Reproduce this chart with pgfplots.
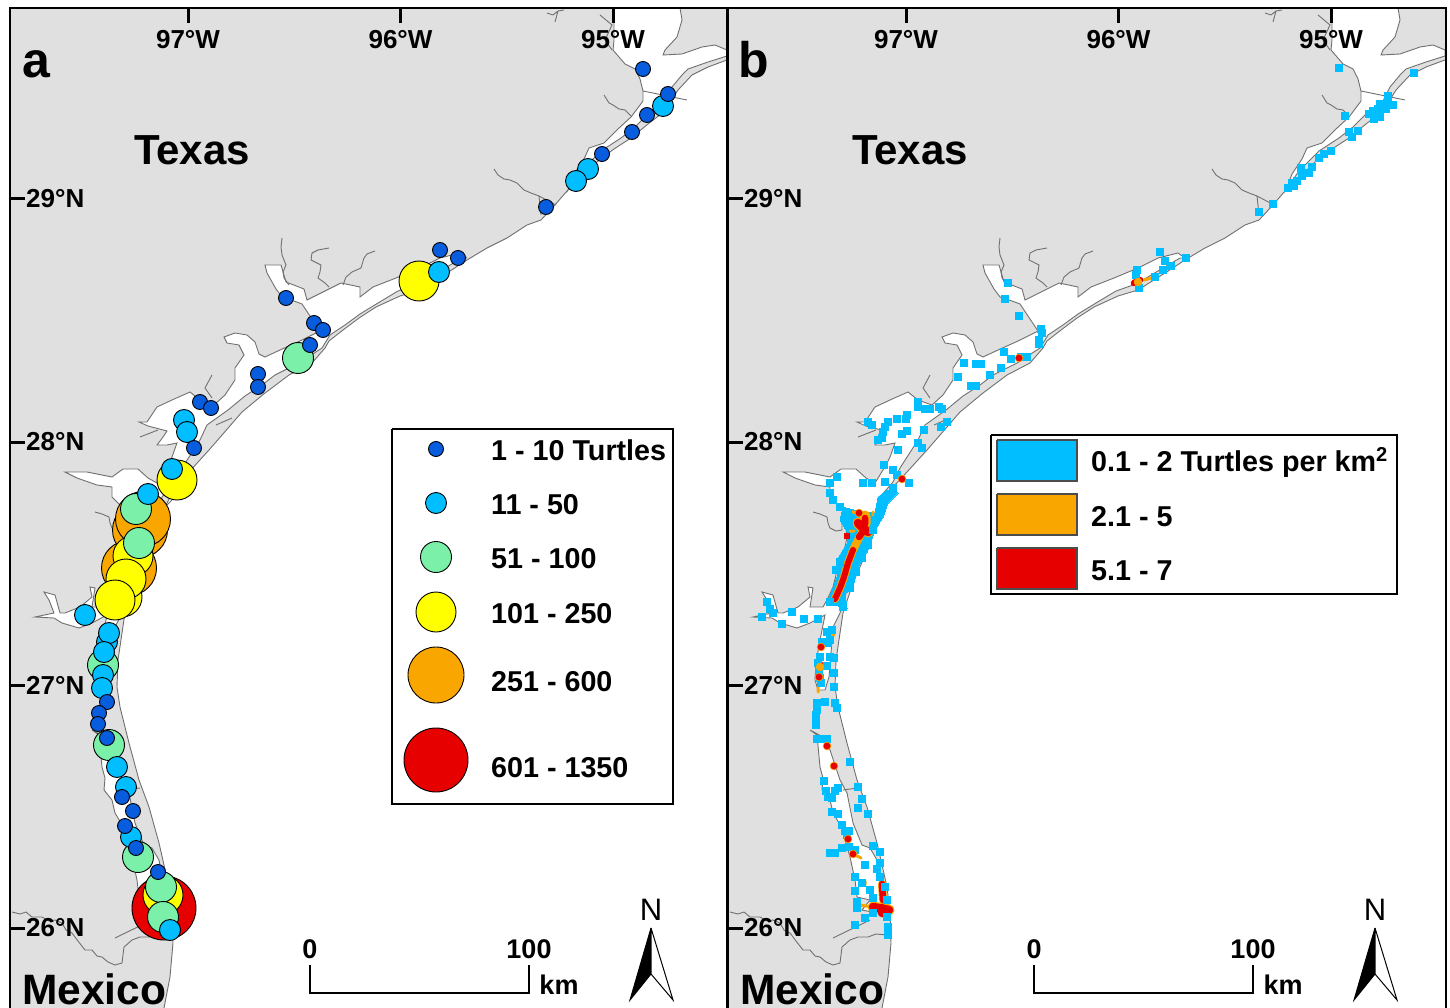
\documentclass[border=0pt]{standalone}
\usepackage{fontspec}
\setmainfont{Liberation Sans}
\usepackage{pgfplots}
\usepackage{pgfplotstable}
\pgfplotsset{compat=1.18}
\definecolor{landc}{RGB}{224,224,224}
\definecolor{coastc}{RGB}{112,112,112}
\definecolor{dblue}{RGB}{8,92,222}
\definecolor{lblue}{RGB}{0,190,255}
\definecolor{lgreen}{RGB}{122,240,168}
\definecolor{yel}{RGB}{255,255,0}
\definecolor{org}{RGB}{250,166,0}
\definecolor{rd}{RGB}{230,0,0}
\newcommand{\fs}[1]{\fontsize{#1}{#1}\selectfont\bfseries}

\pgfplotstableread{
x y
5 3
735 3
735 62
727 60
708 67
692 75
678 90
665 111
648 124
631 138
614 149
598 161
581 178
567 191
554 206
541 220
527 225
507 238
487 248
467 260
447 273
420 290
400 296
376 307
359 318
343 330
329 341
325 348
312 363
289 375
265 393
242 412
229 427
209 450
189 472
175 487
165 507
159 527
152 540
145 560
135 583
125 613
122 633
118 660
117 687
120 707
129 743
139 780
149 807
159 843
169 887
172 913
173 943
170 977
164 1008
162 1020
5 1020
5 3
}\landtab

\pgfplotstableread{
x y
467 258
460 253
440 258
420 268
396 278
373 287
360 297
360 287
341 283
307 300
304 289
286 282
281 265
265 265
267 273
276 289
282 297
294 301
302 304
312 319
320 331
300 341
280 350
265 357
259 354
255 342
247 335
235 333
224 337
227 343
239 345
244 355
235 368
235 380
225 395
214 405
200 400
190 392
172 400
157 407
147 422
139 422
148 426
167 431
163 437
157 445
167 445
177 443
172 457
168 465
157 483
148 478
138 469
123 469
112 477
87 472
65 472
77 478
97 485
112 487
112 497
125 510
127 520
129 537
127 547
120 567
115 587
109 600
105 607
92 607
95 588
90 587
92 597
80 607
65 613
60 613
55 595
44 592
49 600
54 613
35 617
54 618
62 623
79 628
92 623
107 615
102 640
98 663
97 680
100 690
107 690
111 677
113 653
115 627
122 613
129 590
140 560
155 527
162 497
175 482
182 468
200 440
207 425
228 410
245 396
262 385
275 375
299 363
322 348
330 335
345 325
360 314
378 303
398 291
418 284
440 271
462 258
467 258
}\baytab

\pgfplotstableread{
x y
614 8
680 8
682 20
677 37
665 50
663 55
682 54
702 47
715 45
727 50
727 56
708 62
688 69
682 75
672 87
665 101
651 111
635 127
621 138
601 151
581 171
568 190
574 174
584 159
589 148
604 143
618 129
631 117
643 101
643 91
640 79
635 69
625 64
613 50
614 40
614 8
}\galvtab

\pgfplotstableread{
x y
92 730
99 735
102 767
105 778
104 790
112 800
115 813
124 828
127 840
132 857
137 880
139 897
152 900
144 910
159 913
169 907
169 900
162 877
159 860
152 848
144 845
135 823
129 793
122 780
112 750
105 737
92 730
}\lagtab

\pgfplotstableread{
x y
494 169
498 175
504 179
510 180
517 183
524 190
531 193
539 196
541 215
nan nan
539 196
556 205
nan nan
604 95
609 103
613 105
619 109
625 110
631 116
nan nan
547 13
553 15
558 11
564 10
nan nan
558 11
555 22
nan nan
643 91
687 100
nan nan
282 238
281 247
282 255
286 265
283 272
284 278
289 285
nan nan
329 248
318 250
312 253
311 260
321 265
320 272
318 278
325 283
329 287
nan nan
375 251
367 254
364 258
361 268
352 272
346 277
343 285
nan nan
95 512
102 514
109 517
110 523
112 528
118 531
124 530
124 520
nan nan
12 912
20 914
26 912
32 917
42 917
49 921
55 920
62 923
66 930
72 933
78 941
85 950
92 950
97 956
102 957
108 962
115 965
122 963
124 947
132 940
140 937
150 937
158 934
169 935
nan nan
115 938
152 920
nan nan
125 790
140 788
nan nan
600 15
612 25
605 40
612 50
nan nan
212 375
205 388
212 398
nan nan
158 430
140 437
nan nan
216 425
232 418
nan nan
160 512
172 500
}\rivertab

\pgfplotstableread{
x y
621 68
696 73
670 96
670 101
675 105
668 106
662 104
660 109
655 111
651 114
662 117
656 119
668 109
627 116
631 132
640 131
634 137
613 151
606 154
601 158
583 168
594 167
591 173
584 176
579 181
574 183
570 188
576 186
555 204
541 212
442 252
468 258
447 261
453 266
445 270
437 277
419 270
418 275
421 288
290 283
287 299
301 316
323 329
324 333
321 340
321 344
286 352
246 363
263 364
258 364
293 359
309 357
303 357
283 368
272 375
240 377
258 386
253 386
200 402
200 407
207 409
212 409
221 407
224 409
229 422
223 427
206 430
189 415
188 419
179 419
150 422
154 425
170 422
167 427
165 432
189 431
184 434
164 438
160 440
200 443
204 448
180 450
166 465
175 470
191 483
179 475
167 482
145 483
154 483
175 488
119 477
112 483
112 493
115 500
122 507
130 513
165 505
160 517
155 530
150 545
144 558
138 572
132 588
118 570
122 562
112 602
125 607
49 602
52 609
55 613
44 617
74 612
64 624
86 619
100 619
109 632
114 630
110 643
105 643
112 640
104 642
102 657
100 663
103 683
112 657
116 658
116 673
116 687
109 666
101 670
102 678
99 703
107 702
117 703
119 708
99 710
98 715
98 720
98 725
99 739
104 739
109 739
132 762
106 781
140 787
120 788
117 791
108 791
110 797
114 798
144 799
140 808
150 814
114 812
120 814
124 825
127 831
131 831
129 835
124 848
112 853
117 853
131 847
137 850
155 846
162 852
147 865
162 863
159 869
162 877
137 877
144 883
152 890
137 891
139 902
139 908
155 898
167 887
169 900
147 918
137 925
155 913
169 917
170 927
170 935
}\cellstab

\pgfplotstableread{
x y
125 507
140 511
157 513
160 497
169 490
180 493
170 503
165 517
157 530
149 552
140 567
134 590
127 593
129 608
109 603
115 587
125 560
119 560
129 543
130 533
122 520
125 507
}\bandtab

\pgfplotstableread{
x y
643 69
668 94
647 115
632 132
602 154
546 207
440 250
458 258
286 298
314 323
323 330
310 345
258 374
258 387
200 402
211 408
194 448
107 702
99 713
98 724
107 738
122 797
133 811
125 826
136 848
158 872
}\sitesA

\pgfplotstableread{
x y
663 106
588 169
576 181
439 272
184 420
187 432
172 469
148 494
85 615
107 642
109 633
104 652
103 675
102 688
117 767
126 787
131 837
170 930
}\sitesB

\pgfplotstableread{
x y
298 358
136 509
139 543
103 665
109 745
138 857
161 887
163 917
}\sitesC

\pgfplotstableread{
x y
419 281
177 480
122 597
163 895
133 556
126 579
115 600
}\sitesD

\pgfplotstableread{
x y
129 568
140 530
143 519
}\sitesE

\pgfplotstableread{
x y
164 908
}\sitesF

\pgfplotsset{
  mapaxis/.style={
    scale only axis, height=1004pt, y dir=reverse,
    xmin=10, ymin=8, ymax=1012, enlargelimits=false,
    axis on top,
    axis line style={line width=2.5pt,black},
    xtick={188,400.5,613}, xticklabels={97°W,96°W,95°W},
    ytick={199,442,685,928}, yticklabels={29°N,28°N,27°N,26°N},
    xtick pos=upper, ytick pos=left, xticklabel pos=upper, yticklabel pos=left,
    tick align=inside, major tick length=15pt,
    tick style={line width=3pt,black},
    xticklabel style={font=\fs{26}, anchor=base, inner sep=0pt, yshift=-41pt},
    yticklabel style={font=\fs{26}, anchor=west, inner sep=0pt, xshift=16pt},
    clip=true,
    nodes={inner sep=0pt},
  },
  landplot/.style={fill=landc, draw=coastc, line width=.9pt, mark=none},
  bayplot/.style={fill=white, draw=coastc, line width=.9pt, mark=none},
  site/.style n args={2}{only marks, mark=*, mark size=#2pt,
    mark options={fill=#1, draw=black, line width=.9pt}},
  cell/.style={only marks, mark=square*, mark size=3.4pt,
    mark options={fill=lblue, draw=lblue, line width=0pt}},
}
\newcommand{\basemap}{%
  \addplot[landplot] table[x=x,y=y]{\landtab};
  \addplot[bayplot] table[x=x,y=y]{\baytab};
  \addplot[bayplot] table[x=x,y=y]{\galvtab};
  \addplot[bayplot] table[x=x,y=y]{\lagtab};
  \addplot[draw=coastc, line width=.9pt, mark=none, unbounded coords=jump] table[x=x,y=y]{\rivertab};
}
\newcommand{\furniture}[1]{%
  \node[font=\fs{42}, anchor=base] at (axis cs:192,165) {Texas};
  \node[font=\fs{50}, anchor=base] at (axis cs:36,78) {#1};
}
\begin{document}
\begin{tikzpicture}
\useasboundingbox (0,0) rectangle (1450pt,1008pt);
%%%% panel a
\begin{axis}[mapaxis, at={(10pt,-4pt)}, anchor=south west, width=717pt, xmax=727]
\basemap
\addplot[site={rd}{32}] table[x=x,y=y]{\sitesF};
\addplot[site={org}{27.5}] table[x=x,y=y]{\sitesE};
\addplot[site={yel}{20}] table[x=x,y=y]{\sitesD};
\addplot[site={lgreen}{15.5}] table[x=x,y=y]{\sitesC};
\addplot[site={lblue}{10.5}] table[x=x,y=y]{\sitesB};
\addplot[site={dblue}{7.5}] table[x=x,y=y]{\sitesA};
% legend
\addplot[fill=white, draw=black, line width=2pt, mark=none] coordinates {(392,429)(673,429)(673,804)(392,804)(392,429)};
\addplot[site={dblue}{7.5}] coordinates {(436,449)};
\addplot[site={lblue}{10.5}] coordinates {(436,503)};
\addplot[site={lgreen}{15.5}] coordinates {(436,557)};
\addplot[site={yel}{20}] coordinates {(436,612)};
\addplot[site={org}{28}] coordinates {(436,675)};
\addplot[site={rd}{32}] coordinates {(436,760)};
\node[font=\fs{28.7}, anchor=base west] at (axis cs:491,460) {1 - 10 Turtles};
\node[font=\fs{28.7}, anchor=base west] at (axis cs:491,514) {11 - 50};
\node[font=\fs{28.7}, anchor=base west] at (axis cs:491,568) {51 - 100};
\node[font=\fs{28.7}, anchor=base west] at (axis cs:491,623) {101 - 250};
\node[font=\fs{28.7}, anchor=base west] at (axis cs:491,691) {251 - 600};
\node[font=\fs{28.7}, anchor=base west] at (axis cs:491,777) {601 - 1350};
\node[font=\fs{42.5}, anchor=base west] at (axis cs:22,1004) {Mexico};
\furniture{a}
% scale bar
\addplot[draw=black, line width=2pt, mark=none] coordinates {(310,965)(310,993)(529,993)(529,965)};
\node[font=\fs{27}, anchor=base] at (axis cs:310,958) {0};
\node[font=\fs{27}, anchor=base] at (axis cs:529,958) {100};
\node[font=\fs{27}, anchor=base] at (axis cs:559,994) {km};
\node[font=\fontsize{31}{31}\selectfont, anchor=base] at (axis cs:651,920) {N};
\addplot[fill=black, draw=black, line width=1pt, mark=none] coordinates {(651,928)(630,1000)(651,974)(651,928)};
\addplot[fill=white, draw=black, line width=1pt, mark=none] coordinates {(651,928)(673,1000)(651,974)(651,928)};
\end{axis}
%%%% panel b
\begin{axis}[mapaxis, at={(728pt,-4pt)}, anchor=south west, width=718pt, xmax=728]
\basemap
\addplot[fill=lblue, draw=lblue, line width=0pt, mark=none] table[x=x,y=y]{\bandtab};
\addplot[cell] table[x=x,y=y]{\cellstab};
% hot spots, orange halo then red core
\addplot[draw=org, line width=8pt, line cap=round, mark=none] coordinates {(117,599)(122,588)(126,577)(130,563)(135,550)(140,540)(145,530)};
\addplot[draw=org, line width=11pt, line cap=round, mark=none, unbounded coords=jump] coordinates {(140,523)(145,528)(150,532) (nan,nan) (147,516)(147,524) (nan,nan) (155,907)(171,910)};
\addplot[draw=org, line width=3pt, line cap=round, mark=none, unbounded coords=jump] coordinates {(127,510)(139,513) (nan,nan) (132,531)(136,531) (nan,nan) (155,512)(155,515) (nan,nan) (142,905)(154,907) (nan,nan) (135,854)(143,858) (nan,nan) (147,881)(147,885) (nan,nan) (100,687)(100,692) (nan,nan) (112,635)(116,635) (nan,nan) (426,280)(437,277)};
\addplot[draw=org, line width=8pt, line cap=round, mark=none] coordinates {(164,884)(165,900)};
\addplot[only marks, mark=*, mark size=4pt, mark options={fill=org, draw=org}] coordinates {(184,479)(301,358)(103,647)(102,667)(101,677)(109,746)(116,766)(130,839)(135,854)(141,513)(420,282)};
\addplot[draw=rd, line width=6pt, line cap=round, mark=none] coordinates {(117,599)(122,588)(126,577)(130,563)(135,550)};
\addplot[draw=rd, line width=8.5pt, line cap=round, mark=none, unbounded coords=jump] coordinates {(140,523)(145,528)(150,532) (nan,nan) (155,907)(171,910) (nan,nan) (164,908)(164,913)};
\addplot[draw=rd, line width=6.5pt, line cap=round, mark=none, unbounded coords=jump] coordinates {(147,518)(147,524) (nan,nan) (141,537)(144,533) (nan,nan) (164,884)(165,900) (nan,nan) (102,664)(102,670) (nan,nan) (416,283)(422,280)};
\addplot[only marks, mark=*, mark size=3.2pt, mark options={fill=rd, draw=rd}] coordinates {(184,479)(301,358)(103,647)(101,677)(109,746)(116,766)(130,839)(135,854)(141,513)};
\addplot[only marks, mark=square*, mark size=2.6pt, mark options={fill=rd, draw=rd}] coordinates {(129,536)};
% legend
\addplot[fill=white, draw=black, line width=2pt, mark=none] coordinates {(272.5,435)(679,435)(679,594)(272.5,594)(272.5,435)};
\addplot[fill=lblue, draw=black!70, line width=1.8pt, mark=none] coordinates {(279,440)(359,440)(359,481)(279,481)(279,440)};
\addplot[fill=org, draw=black!70, line width=1.8pt, mark=none] coordinates {(279,494)(359,494)(359,535)(279,535)(279,494)};
\addplot[fill=rd, draw=black!70, line width=1.8pt, mark=none] coordinates {(279,548)(359,548)(359,589)(279,589)(279,548)};
\node[font=\fs{28.7}, anchor=base west] at (axis cs:373,471) {0.1 - 2 Turtles per km\textsuperscript{2}};
\node[font=\fs{28.7}, anchor=base west] at (axis cs:373,526) {2.1 - 5};
\node[font=\fs{28.7}, anchor=base west] at (axis cs:373,580) {5.1 - 7};
\node[font=\fs{42.5}, anchor=base west] at (axis cs:22,1004) {Mexico};
\furniture{b}
% scale bar
\addplot[draw=black, line width=2pt, mark=none] coordinates {(316,965)(316,993)(535,993)(535,965)};
\node[font=\fs{27}, anchor=base] at (axis cs:316,958) {0};
\node[font=\fs{27}, anchor=base] at (axis cs:535,958) {100};
\node[font=\fs{27}, anchor=base] at (axis cs:565,994) {km};
\node[font=\fontsize{31}{31}\selectfont, anchor=base] at (axis cs:657,920) {N};
\addplot[fill=black, draw=black, line width=1pt, mark=none] coordinates {(657,928)(636,1000)(657,974)(657,928)};
\addplot[fill=white, draw=black, line width=1pt, mark=none] coordinates {(657,928)(679,1000)(657,974)(657,928)};
\end{axis}
\end{tikzpicture}
\end{document}
